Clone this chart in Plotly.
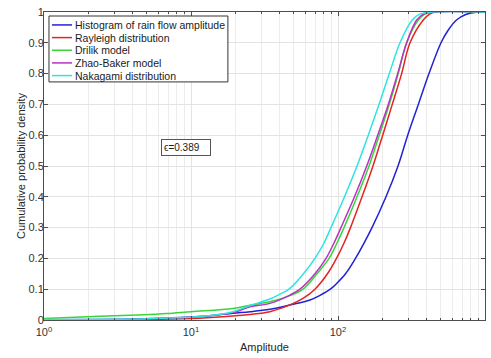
import plotly.graph_objects as go

# ---- data ----
series_names = ["Histogram of rain flow amplitude", "Rayleigh distribution",
                "Drilik model", "Zhao-Baker model", "Nakagami distribution"]
series_colors = ["#2222d4", "#e42420", "#3ad43a", "#b832c4", "#30e3e3"]

amp_hist = [1, 4, 11.5, 19.3, 25.2, 34.4, 47.1, 64.5, 75.4, 88.7, 98.6, 112.5, 131.5,
            170.3, 212.1, 256, 298, 352, 416, 502, 560, 640, 740, 900, 1000]
cdf_hist = [0.001, 0.003, 0.011, 0.022, 0.027, 0.035, 0.049, 0.065, 0.080, 0.100, 0.120,
            0.150, 0.200, 0.300, 0.400, 0.500, 0.600, 0.700, 0.800, 0.900, 0.940, 0.974,
            0.992, 1.0, 1.0]

amp_rayleigh = [1, 4, 11.5, 19.3, 25.2, 34.4, 47.1, 57.8, 69.7, 84.8, 97.7, 109.9, 121.6,
                145.7, 173, 201.4, 234, 271, 309, 380, 420, 457, 1000]
cdf_rayleigh = [0.0, 0.001, 0.006, 0.013, 0.018, 0.027, 0.049, 0.070, 0.100, 0.150, 0.200,
                0.250, 0.300, 0.400, 0.500, 0.600, 0.700, 0.800, 0.900, 0.974, 0.993, 1.0,
                1.0]

amp_drilik = [1, 2.4, 4.8, 6.8, 10, 19.3, 25.2, 34.4, 47.1, 57.8, 71.9, 86.9, 98.4, 109.9,
              134.7, 162.5, 191, 223.4, 257, 293, 352, 390, 434, 1000]
cdf_drilik = [0.005, 0.012, 0.017, 0.021, 0.027, 0.037, 0.048, 0.059, 0.079, 0.100, 0.150,
              0.200, 0.250, 0.300, 0.400, 0.500, 0.600, 0.700, 0.800, 0.900, 0.974, 0.993,
              1.0, 1.0]

amp_zhao = [1, 4, 11.5, 19.3, 25.2, 34.4, 47.1, 55.1, 69.7, 82.9, 93.9, 104.8, 129.5,
            156.8, 186.2, 219.9, 254.6, 293.3, 343, 389, 457, 1000]
cdf_zhao = [0.001, 0.002, 0.011, 0.024, 0.043, 0.054, 0.081, 0.100, 0.150, 0.200, 0.250,
            0.300, 0.400, 0.500, 0.600, 0.700, 0.800, 0.900, 0.974, 0.995, 1.0, 1.0]

amp_naka = [1, 4, 11.5, 19.3, 25.2, 34.4, 40, 46.4, 58.2, 69.7, 80.3, 89.6, 110.7, 134.7,
            160.7, 190.1, 223.4, 264.2, 319.9, 359, 436, 1000]
cdf_naka = [0.002, 0.003, 0.011, 0.027, 0.047, 0.068, 0.083, 0.100, 0.150, 0.200, 0.250,
            0.300, 0.400, 0.500, 0.600, 0.700, 0.800, 0.900, 0.974, 0.993, 1.0, 1.0]

x_tickvals = [1, 10, 100, 1000]
x_ticktext = ["10<sup>0</sup>", "10<sup>1</sup>", "10<sup>2</sup>", "10<sup>3</sup>"]
x_minor_vals = [m * d for d in (1, 10, 100) for m in range(2, 10)]
annotation_text = "\u03f5=0.389"

all_amp = [amp_hist, amp_rayleigh, amp_drilik, amp_zhao, amp_naka]
all_cdf = [cdf_hist, cdf_rayleigh, cdf_drilik, cdf_zhao, cdf_naka]

FONT = "Liberation Sans, Arial, sans-serif"
AX = "#4d4d4d"

fig = go.Figure()
for name, col, xs, ys in zip(series_names, series_colors, all_amp, all_cdf):
    fig.add_trace(go.Scatter(x=xs, y=ys, mode="lines", name=name, showlegend=False,
                             line=dict(color=col, width=1.5, shape="spline", smoothing=1.0)))

fig.update_layout(
    width=491, height=358,
    margin=dict(l=44, r=6, t=12, b=38),
    paper_bgcolor="white", plot_bgcolor="white",
    font=dict(family=FONT, size=11, color="#262626"),
    showlegend=False,
    xaxis=dict(type="log", range=[0, 3], tickvals=x_tickvals, ticktext=x_ticktext,
               showgrid=True, gridcolor="#e3e3e3", gridwidth=1,
               minor=dict(tickvals=x_minor_vals, showgrid=True, gridcolor="#ececec",
                          ticks="inside", ticklen=2, tickcolor=AX),
               ticks="inside", ticklen=4, tickcolor=AX, ticklabelstandoff=2,
               showline=True, linecolor=AX, linewidth=1, mirror="ticks",
               zeroline=False, tickfont=dict(size=11, color="#333333"),
               title=dict(text="Amplitude", font=dict(size=11, color="#262626"), standoff=6)),
    yaxis=dict(range=[0, 1], dtick=0.1, tick0=0,
               showgrid=True, gridcolor="#e3e3e3", gridwidth=1,
               ticks="inside", ticklen=4, tickcolor=AX, ticklabelstandoff=-3,
               showline=True, linecolor=AX, linewidth=1, mirror="ticks",
               zeroline=False, tickfont=dict(size=11, color="#333333"),
               title=dict(text="Cumulative probability density",
                          font=dict(size=11, color="#262626"), standoff=0)),
)

# ---- legend box (drawn in paper coordinates, compact like the reference) ----
leg_x0, leg_x1, leg_y_top, leg_y_bot = 0.0113, 0.417, 0.987, 0.773
row_top, row_step = 0.958, 0.0411
fig.add_shape(type="rect", xref="paper", yref="paper", x0=leg_x0, x1=leg_x1,
              y0=leg_y_bot, y1=leg_y_top, line=dict(color="#333333", width=1),
              fillcolor="white", layer="above")
for i, (name, col) in enumerate(zip(series_names, series_colors)):
    yy = row_top - i * row_step
    fig.add_shape(type="line", xref="paper", yref="paper", x0=0.018, x1=0.0635,
                  y0=yy, y1=yy, line=dict(color=col, width=1.5), layer="above")
    fig.add_annotation(x=0.066, y=yy, xref="paper", yref="paper", text=name,
                       showarrow=False, xanchor="left", yanchor="middle",
                       font=dict(size=10.5, color="#1a1a1a"))

fig.add_annotation(x=0.265, y=0.56, xref="paper", yref="paper", text=annotation_text,
                   showarrow=False, xanchor="left", yanchor="middle",
                   font=dict(size=10, color="#1a1a1a"),
                   bordercolor="#555555", borderwidth=1, borderpad=2, bgcolor="white",
                   width=44, align="left")

fig.write_html("out.html")
